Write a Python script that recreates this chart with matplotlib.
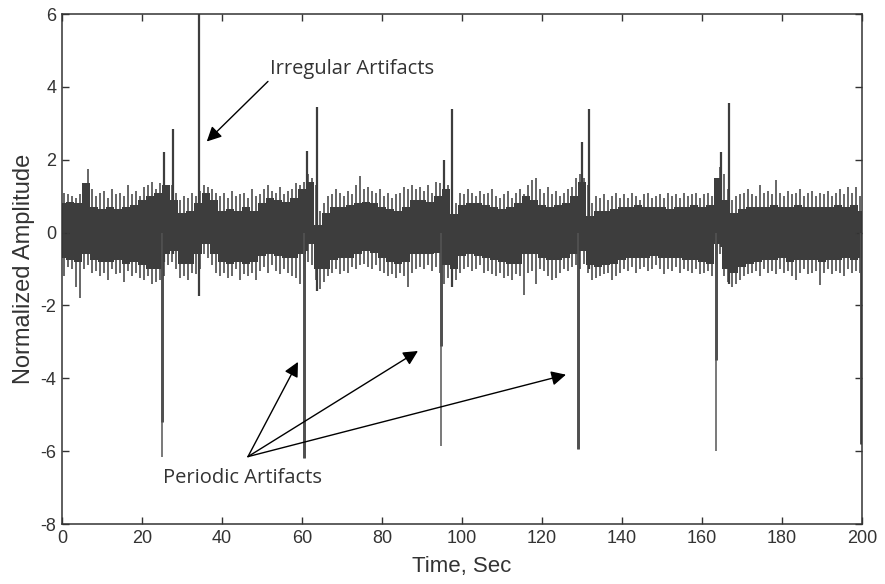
import numpy as np
import matplotlib
matplotlib.use('Agg')
import matplotlib.pyplot as plt

# dense background band, sampled every 2 s (upper / lower edge of the dark core)
t_core = np.arange(0, 201, 2)
core_hi = [0.8, 0.85, 0.8, 1.35, 0.7, 0.65, 0.7, 0.65, 0.7, 0.75,
           0.9, 1.0, 1.1, 1.3, 0.9, 0.55, 0.6, 0.8, 1.1, 0.9,
           0.6, 0.65, 0.6, 0.7, 0.6, 0.8, 0.95, 0.9, 0.85, 0.95,
           1.2, 1.4, 0.2, 0.55, 0.7, 0.7, 0.75, 0.8, 0.85, 0.8,
           0.7, 0.65, 0.6, 0.7, 0.9, 0.9, 0.85, 1.0, 1.2, 0.5,
           0.75, 0.8, 0.8, 0.75, 0.7, 0.65, 0.7, 0.8, 1.0, 0.9,
           0.75, 0.7, 0.75, 0.8, 1.0, 1.4, 0.45, 0.6, 0.6, 0.65,
           0.7, 0.7, 0.75, 0.7, 0.7, 0.7, 0.65, 0.7, 0.7, 0.75,
           0.7, 0.75, 1.5, 0.9, 0.55, 0.65, 0.7, 0.7, 0.7, 0.75,
           0.7, 0.7, 0.75, 0.7, 0.7, 0.7, 0.7, 0.75, 0.7, 0.75,
           0.6]
core_lo = [-0.7, -0.75, -0.8, -0.6, -0.75, -0.8, -0.8, -0.75, -0.85, -0.8,
           -0.9, -1.0, -1.0, -0.6, -0.5, -0.85, -0.85, -0.6, -0.3, -0.6,
           -0.8, -0.85, -0.8, -0.85, -0.8, -0.65, -0.6, -0.65, -0.7, -0.7,
           -0.6, -0.3, -1.0, -1.0, -0.75, -0.7, -0.7, -0.6, -0.5, -0.55,
           -0.7, -0.8, -0.85, -0.8, -0.6, -0.6, -0.6, -0.55, -0.9, -1.0,
           -0.65, -0.6, -0.65, -0.7, -0.75, -0.8, -0.85, -0.85, -0.6, -0.6,
           -0.7, -0.75, -0.75, -0.7, -0.6, -0.5, -0.9, -0.95, -0.9, -0.85,
           -0.75, -0.7, -0.7, -0.7, -0.65, -0.7, -0.7, -0.7, -0.75, -0.75,
           -0.8, -0.85, -0.3, -1.0, -1.1, -0.95, -0.85, -0.8, -0.75, -0.75,
           -0.7, -0.8, -0.75, -0.75, -0.75, -0.8, -0.75, -0.75, -0.7, -0.75,
           -0.7]

# fringe peaks, one per second (t = 0.5 ... 199.5)
t_peak = np.arange(0.5, 200, 1)
peak_hi = [1.1, 1.05, 1.0, 0.95, 1.05, 1.3, 1.75, 1.2, 1.0, 1.1,
           1.15, 0.95, 1.2, 1.05, 1.1, 1.0, 1.3, 1.05, 1.15, 1.0,
           1.25, 1.3, 1.4, 1.2, 1.35, 1.3, 1.2, 1.3, 1.1, 0.9,
           1.0, 0.95, 1.1, 1.0, 1.15, 1.3, 1.25, 1.2, 1.1, 1.0,
           1.1, 0.95, 1.15, 1.0, 1.05, 1.1, 0.95, 1.2, 1.0, 1.05,
           1.2, 1.3, 1.15, 1.1, 1.25, 1.05, 1.15, 1.2, 1.35, 1.3,
           1.4, 1.6, 1.5, 1.3, 0.6, 0.8, 1.0, 1.05, 1.2, 1.1,
           1.0, 1.15, 1.05, 1.3, 1.55, 1.2, 1.25, 1.15, 1.1, 1.2,
           1.0, 1.1, 0.95, 1.05, 1.1, 1.25, 1.2, 1.3, 1.2, 1.25,
           1.15, 1.3, 1.1, 1.4, 1.35, 1.5, 1.3, 0.9, 0.8, 1.1,
           1.05, 1.2, 1.1, 1.0, 1.15, 1.05, 1.1, 1.2, 1.0, 0.95,
           1.05, 1.15, 0.95, 1.1, 1.2, 1.05, 1.3, 1.45, 1.5, 1.2,
           1.1, 1.25, 1.05, 1.15, 1.0, 1.1, 1.2, 1.25, 1.5, 1.6,
           1.5, 1.3, 0.8, 1.0, 0.95, 1.05, 0.9, 1.0, 1.1, 0.95,
           1.05, 0.95, 1.1, 1.0, 0.9, 1.05, 1.1, 0.95, 1.0, 1.05,
           0.95, 1.1, 1.0, 1.05, 0.95, 1.1, 1.0, 1.05, 1.1, 0.95,
           1.05, 1.1, 1.0, 1.2, 1.8, 1.6, 1.2, 0.9, 1.0, 1.05,
           1.1, 1.2, 1.05, 1.0, 1.3, 1.1, 1.15, 1.05, 1.45, 1.1,
           1.0, 1.15, 1.05, 1.1, 1.2, 1.0, 1.1, 1.15, 1.0, 1.1,
           1.05, 1.15, 1.0, 1.1, 1.2, 1.05, 1.25, 1.1, 1.25, 1.0]
peak_lo = [-1.2, -0.95, -1.0, -1.5, -1.8, -1.0, -0.9, -1.1, -1.05, -1.2,
           -1.1, -1.3, -1.0, -1.15, -1.1, -1.35, -1.05, -1.2, -1.1, -1.25,
           -1.3, -1.2, -1.4, -1.35, -1.3, -1.2, -0.9, -0.8, -1.0, -1.25,
           -1.2, -1.3, -1.1, -1.15, -1.0, -0.6, -0.7, -0.9, -1.1, -1.2,
           -1.1, -1.25, -1.2, -1.0, -1.3, -1.15, -1.2, -1.1, -1.3, -1.05,
           -0.95, -1.1, -0.9, -1.05, -1.15, -1.0, -1.1, -1.2, -1.25, -1.4,
           -1.0, -0.8, -0.9, -1.3, -1.55, -1.35, -1.2, -1.1, -1.0, -1.15,
           -1.05, -1.1, -0.95, -1.0, -0.9, -0.85, -0.95, -1.0, -0.9, -1.05,
           -1.1, -1.2, -1.15, -1.25, -1.1, -1.2, -1.5, -1.1, -1.0, -0.95,
           -1.0, -0.9, -1.05, -0.95, -1.1, -1.4, -1.25, -1.45, -1.3, -1.1,
           -1.0, -0.95, -1.05, -1.0, -0.9, -1.1, -1.05, -1.15, -1.2, -1.1,
           -1.25, -1.2, -1.3, -1.15, -1.2, -1.7, -1.1, -1.05, -1.4, -1.0,
           -1.05, -1.2, -1.3, -1.25, -1.1, -1.0, -1.05, -0.95, -0.9, -1.0,
           -0.85, -1.1, -1.3, -1.25, -1.2, -1.15, -1.1, -1.3, -1.2, -1.1,
           -1.0, -1.05, -0.95, -1.1, -1.0, -0.95, -1.05, -1.0, -0.9, -1.0,
           -1.15, -1.0, -1.05, -0.95, -1.1, -1.0, -1.05, -1.1, -1.0, -1.15,
           -1.1, -1.05, -1.2, -0.9, -0.6, -1.2, -1.35, -1.5, -1.4, -1.3,
           -1.2, -1.15, -1.1, -1.05, -1.2, -1.0, -1.1, -1.05, -1.15, -1.0,
           -1.1, -1.05, -1.2, -1.3, -1.1, -1.0, -1.15, -1.1, -1.05, -1.45,
           -1.1, -1.0, -1.15, -1.05, -1.1, -1.2, -1.0, -1.1, -1.05, -1.1]

# artifacts: downward (periodic) and upward spikes
dip_t = [25.0, 60.5, 94.7, 129.0, 163.6, 199.7]
dip_body = [-5.2, -6.2, -3.1, -5.95, -3.5, -5.8]
dip_tip = [-6.15, -6.2, -5.85, -5.95, -6.0, -5.8]
up_t = [25.6, 27.8, 34.3, 61.3, 63.7, 95.5, 97.5, 130.0, 131.8, 164.7, 166.7]
up_top = [2.2, 2.85, 6.0, 2.25, 3.45, 2.0, 3.4, 2.5, 3.4, 2.2, 3.55]
up_base = [-0.8, -0.6, -1.75, -0.5, -1.6, -0.6, -1.5, -0.5, -1.0, -0.4, -1.4]

sig = '#3d3d3d'
plt.rcParams['font.family'] = ['Liberation Sans', 'DejaVu Sans']
plt.rcParams['axes.unicode_minus'] = False

fig = plt.figure(figsize=(8.85, 5.84), dpi=100)
ax = fig.add_axes([0.070, 0.1027, 0.904, 0.8733])

ax.fill_between(t_core, core_lo, core_hi, color=sig, lw=0, step='mid')
ax.vlines(t_peak, peak_lo, peak_hi, color=sig, lw=1.1)

ax.vlines(dip_t, 0, dip_body, color=sig, lw=2.0)
ax.vlines(dip_t, 0, dip_tip, color='#555555', lw=1.1)
ax.vlines(up_t, up_base, up_top, color=sig, lw=1.6)

# annotations
ann_font = dict(family=['Open Sans', 'DejaVu Sans'], fontsize=14.5, color='#333333')
arrow = dict(arrowstyle='-|>', color='black', lw=1.0, mutation_scale=22,
             shrinkA=0, shrinkB=0)
ax.text(52, 4.5, 'Irregular Artifacts', va='center', ha='left', **ann_font)
ax.annotate('', xy=(36.2, 2.5), xytext=(51.5, 4.15), arrowprops=arrow)

ax.text(25.3, -6.75, 'Periodic Artifacts', va='center', ha='left', **ann_font)
for hx, hy in [(59, -3.55), (89, -3.25), (126, -3.9)]:
    ax.annotate('', xy=(hx, hy), xytext=(46.5, -6.15), arrowprops=arrow)

ax.set_xlim(0, 200)
ax.set_ylim(-8, 6)
ax.set_xticks(range(0, 201, 20))
ax.set_yticks(range(-8, 7, 2))
ax.tick_params(direction='in', top=True, right=True, length=5, width=1,
               labelsize=13, colors='#333333', pad=4)
for s in ax.spines.values():
    s.set_color('#333333')
    s.set_linewidth(1.1)

ax.set_xlabel('Time, Sec', fontsize=16, color='#333333', labelpad=7)
ax.set_ylabel('Normalized Amplitude', fontsize=17, color='#333333', labelpad=4)

fig.savefig('out.png', dpi=100)
